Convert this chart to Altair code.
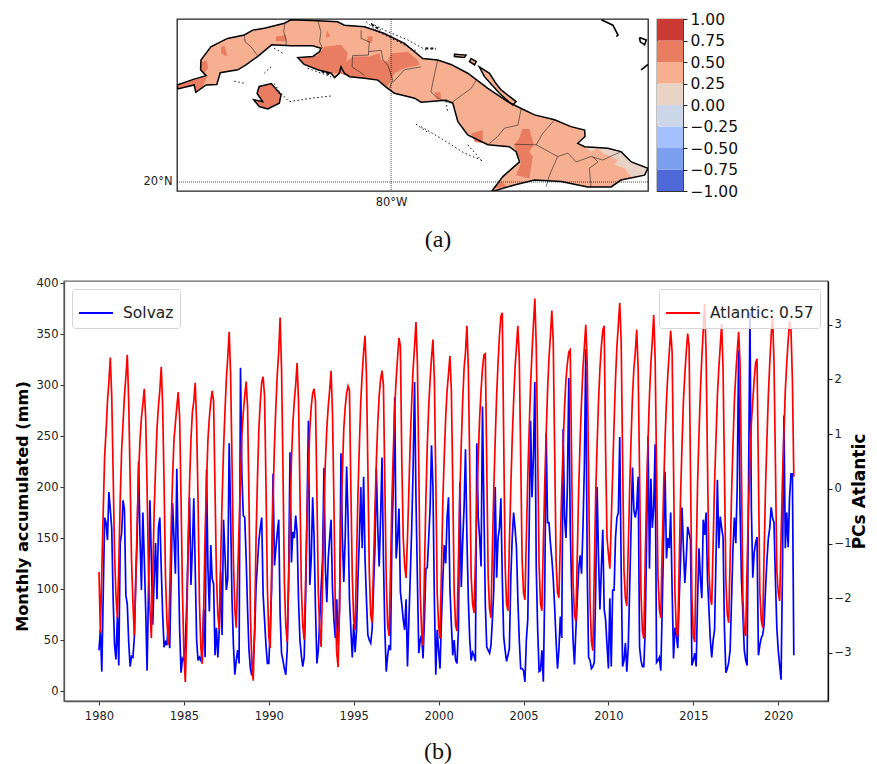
import altair as alt
import pandas as pd

# ---------- time series (monthly, Jan..Dec per row) ----------
START_YEAR = 1980
SOLVAZ = [
 [40,60,19,95,170,165,148,195,178,160,91,45],
 [31,73,25,145,155,187,178,94,85,48,24,34],
 [33,53,110,150,225,150,99,175,130,80,20,100],
 [187,130,65,110,145,90,160,170,120,75,43,48],
 [45,65,42,115,184,150,115,218,135,60,18,32],
 [30,45,85,140,190,104,140,189,120,50,30,33],
 [30,40,80,33,217,120,78,143,110,105,35,62],
 [33,60,117,55,168,135,99,110,243,175,90,45],
 [16,30,40,27,317,210,172,170,130,80,40,22],
 [15,30,55,102,125,148,160,170,94,70,45,27],
 [27,60,100,213,123,140,155,168,75,37,30,22],
 [16,40,110,234,126,156,150,172,155,90,50,35],
 [24,33,90,175,265,104,130,190,150,80,27,40],
 [70,102,130,219,120,87,130,150,168,100,70,52],
 [90,45,80,233,150,107,150,220,170,90,60,33],
 [66,38,60,110,150,200,140,210,130,90,55,50],
 [47,60,100,140,218,160,122,170,229,130,60,19],
 [35,45,40,150,200,288,130,150,179,97,85,70],
 [60,90,24,70,114,160,220,303,190,110,37,50],
 [55,32,70,120,121,150,180,241,200,90,16,60],
 [40,22,70,110,143,125,170,190,100,66,35,50],
 [30,27,60,205,102,146,180,237,150,90,50,30],
 [38,35,29,243,170,150,122,279,180,85,43,40],
 [37,45,70,100,200,111,150,160,189,110,53,40],
 [29,35,42,110,150,175,160,141,90,50,22,22],
 [20,9,50,70,160,265,190,230,303,120,60,19],
 [20,40,9,100,253,165,165,145,130,110,82,50],
 [22,40,73,52,257,170,150,200,307,160,100,50],
 [26,60,90,120,133,115,160,220,335,120,33,30],
 [22,24,28,100,200,130,80,120,158,80,70,45],
 [22,91,24,99,99,150,170,175,249,120,24,30],
 [47,19,43,100,160,219,177,170,180,210,43,30],
 [24,24,60,150,250,120,208,160,180,242,28,30],
 [33,20,80,150,215,130,150,140,175,100,32,62],
 [55,42,90,130,180,140,106,130,161,155,148,25],
 [30,37,24,90,140,110,91,168,153,175,110,81],
 [50,33,50,60,130,207,140,171,160,151,60,18],
 [22,28,40,90,140,170,145,200,334,180,110,76],
 [40,30,25,200,371,180,111,136,145,151,35,45],
 [52,55,65,100,128,150,160,180,170,165,110,62],
 [40,25,11,120,270,140,175,141,190,213,213,35],
]
ATLANTIC = [
 [-1.52,-2.63,-1.5,-0.4,0.6,1.05,1.6,1.95,2.40,1.7,0.3,-1.2],
 [-1.95,-2.36,-1.4,-0.2,0.7,1.2,1.7,2.05,2.45,1.6,0.2,-1.3],
 [-2.1,-2.68,-1.7,-0.6,0.3,0.9,1.3,1.55,1.83,1.3,0.0,-1.5],
 [-2.2,-2.73,-1.6,-0.4,0.4,1.1,1.5,1.8,2.23,1.5,0.1,-1.6],
 [-2.4,-2.85,-1.9,-0.7,0.2,0.9,1.2,1.5,1.77,1.3,-0.2,-1.9],
 [-3.0,-3.53,-2.6,-1.0,0.1,0.9,1.4,1.6,1.94,1.2,-0.2,-2.1],
 [-2.9,-3.2,-2.2,-0.8,0.1,0.9,1.3,1.6,1.79,1.6,0.0,-1.6],
 [-2.3,-2.58,-1.3,-0.2,0.7,1.4,2.0,2.4,2.87,2.1,0.5,-1.3],
 [-2.2,-2.54,-1.6,-0.7,0.2,1.0,1.4,1.7,1.96,1.5,-0.2,-2.3],
 [-3.2,-3.51,-2.5,-0.9,0.2,1.1,1.6,1.95,2.05,1.7,0.1,-1.8],
 [-2.7,-2.91,-1.5,-0.2,0.8,1.5,2.1,2.5,3.13,2.2,0.4,-1.7],
 [-2.5,-2.80,-1.7,-0.4,0.5,1.2,1.6,1.9,2.30,1.6,0.0,-1.8],
 [-2.5,-2.76,-1.7,-0.5,0.4,1.1,1.5,1.75,1.83,1.6,-0.1,-1.9],
 [-2.6,-2.89,-1.7,-0.4,0.5,1.1,1.5,1.8,2.16,1.4,-0.2,-2.2],
 [-3.0,-3.26,-2.1,-0.7,0.3,1.1,1.5,1.75,1.88,1.8,0.0,-1.6],
 [-2.4,-2.58,-1.3,-0.1,0.8,1.6,2.1,2.5,2.80,2.1,0.4,-1.5],
 [-2.3,-2.45,-1.4,-0.4,0.5,1.2,1.7,2.0,2.16,1.9,0.1,-1.7],
 [-2.5,-2.69,-1.5,-0.2,0.7,1.5,2.0,2.4,2.76,2.6,0.5,-0.9],
 [-1.4,-1.63,-0.9,0.0,0.9,1.6,2.2,2.6,3.05,2.3,0.4,-1.9],
 [-2.6,-2.87,-1.5,-0.2,0.8,1.5,2.0,2.4,2.73,2.0,0.2,-1.9],
 [-2.5,-2.74,-1.5,-0.2,0.6,1.3,1.8,2.1,2.43,1.8,0.1,-1.9],
 [-2.5,-2.60,-1.3,-0.1,0.8,1.6,2.2,2.5,2.98,2.2,0.4,-1.6],
 [-2.1,-2.27,-1.3,-0.3,0.6,1.3,1.8,2.2,2.45,2.47,0.5,-1.6],
 [-2.2,-2.36,-1.1,0.0,0.9,1.7,2.3,2.8,3.15,3.22,0.9,-1.4],
 [-2.1,-2.23,-1.0,0.0,0.9,1.6,2.2,2.6,2.98,2.4,0.6,-1.3],
 [-1.9,-2.03,-0.9,0.2,1.1,1.9,2.5,3.0,3.48,2.6,0.7,-1.4],
 [-2.1,-2.23,-1.0,0.1,1.0,1.8,2.4,2.8,3.26,2.7,0.7,-1.3],
 [-1.9,-1.99,-1.0,0.0,0.8,1.5,2.0,2.3,2.50,2.54,0.5,-1.7],
 [-2.3,-2.43,-1.2,0.0,0.9,1.6,2.2,2.6,3.0,2.3,0.3,-2.1],
 [-2.8,-2.96,-1.5,-0.1,0.8,1.6,2.2,2.6,2.90,2.98,0.7,-0.9],
 [-1.2,-1.46,-0.6,0.3,1.2,2.0,2.6,3.0,3.40,2.7,0.6,-1.5],
 [-2.0,-2.14,-1.1,0.0,0.9,1.7,2.2,2.5,2.91,2.2,0.3,-1.9],
 [-2.6,-2.74,-1.3,0.0,0.9,1.7,2.3,2.7,3.18,2.4,0.4,-1.6],
 [-2.2,-2.36,-1.1,0.0,0.9,1.6,2.1,2.5,2.89,2.5,0.4,-1.9],
 [-2.6,-2.71,-1.4,-0.1,0.8,1.6,2.1,2.5,2.84,2.6,0.3,-2.0],
 [-2.7,-2.80,-1.3,0.1,1.0,1.8,2.4,2.9,3.38,2.5,0.5,-1.5],
 [-2.0,-2.12,-1.0,0.1,0.9,1.7,2.2,2.6,3.02,2.2,0.3,-1.7],
 [-2.3,-2.45,-1.3,-0.1,0.8,1.6,2.1,2.5,2.87,2.3,0.3,-2.0],
 [-2.6,-2.69,-1.4,-0.3,0.5,1.2,1.6,2.0,2.30,2.38,0.3,-1.9],
 [-2.4,-2.54,-1.2,0.0,0.9,1.7,2.3,2.8,3.20,2.3,0.5,-1.5],
 [-1.9,-2.05,-0.9,0.2,1.0,1.8,2.3,2.7,3.07,2.9,2.0,0.22],
]

# ---------- map outlines, in degrees (lon, lat) ----------
CUBA = [(-85.00,21.98),(-84.60,22.10),(-84.32,22.17),(-84.45,22.29),(-84.44,22.49),(-84.21,22.76),
 (-83.82,22.93),(-83.43,23.00),(-83.23,23.10),(-82.96,23.14),(-82.49,23.24),(-82.34,23.31),(-81.71,23.29),
 (-81.25,23.27),(-81.09,23.20),(-80.62,23.17),(-80.16,23.03),(-79.69,22.83),(-79.26,22.52),(-78.91,22.49),
 (-78.60,22.40),(-78.21,22.22),(-77.74,21.91),(-77.28,21.64),(-76.96,21.50),(-76.65,21.37),(-76.18,21.27),
 (-75.80,21.13),(-75.48,21.06),(-75.47,20.93),(-75.64,20.79),(-75.48,20.72),(-74.94,20.69),(-74.63,20.62),
 (-74.39,20.41),(-74.00,20.28),(-74.08,20.14),(-74.63,20.04),(-74.86,19.90),(-75.41,19.90),(-76.03,20.01),
 (-76.65,20.04),(-77.12,19.94),(-77.66,19.80),(-77.39,20.11),(-77.00,20.41),(-77.08,20.62),(-77.24,20.72),
 (-77.74,20.76),(-78.21,20.96),(-78.44,21.23),(-78.56,21.61),(-78.72,21.67),(-79.30,21.63),(-79.45,21.71),
 (-79.92,21.81),(-80.08,21.91),(-80.31,22.08),(-80.62,22.12),(-80.97,22.15),(-81.09,22.22),(-81.17,22.35),
 (-81.21,22.22),(-81.32,22.13),(-81.40,22.22),(-81.71,22.29),(-82.03,22.40),(-82.18,22.54),(-81.83,22.56),
 (-81.67,22.66),(-81.64,22.73),(-81.83,22.78),(-82.34,22.78),(-82.79,22.80),(-83.12,22.56),(-83.39,22.39),
 (-83.58,22.29),(-83.99,22.23),(-84.07,21.99),(-84.32,21.98),(-84.56,21.83),(-84.60,21.98),(-84.98,21.90)]
YOUTH = [(-83.08,21.95),(-82.80,22.01),(-82.57,21.78),(-82.61,21.61),(-82.88,21.49),(-83.08,21.54),
 (-83.21,21.68),(-83.00,21.64),(-83.13,21.81)]
CAY_A = [(-78.52,22.61),(-78.25,22.59),(-78.29,22.54),(-78.52,22.56)]
CAY_B = [(-78.13,22.52),(-78.01,22.46),(-78.05,22.39),(-78.17,22.46)]
CAY_C = [(-77.94,22.35),(-77.70,22.22),(-77.55,22.01),(-77.43,21.88),(-77.08,21.64),(-77.16,21.57),(-77.47,21.81),(-77.82,22.15)]

HIGH_PATCHES = [
 [(-85,21.97),(-84.60,22.08),(-84.30,22.15),(-84.40,21.95),(-84.56,21.83),(-84.60,21.98),(-84.98,21.90)],
 [(-84.46,22.44),(-84.31,22.48),(-84.27,22.33),(-84.38,22.19),(-84.45,22.29)],
 [(-82.14,22.52),(-81.71,22.58),(-81.56,22.76),(-81.17,22.80),(-81.01,22.63),(-81.05,22.46),(-80.86,22.56),
  (-80.51,22.56),(-80.27,22.63),(-80.23,22.49),(-80.08,22.46),(-80.00,22.63),(-79.61,22.66),(-79.38,22.49),
  (-79.34,22.39),(-79.69,22.32),(-79.92,22.22),(-80.08,21.95),(-80.31,22.08),(-80.97,22.15),(-81.21,22.22),
  (-81.40,22.22),(-82.03,22.40)],
 [(-82.69,22.97),(-82.45,23.00),(-82.45,22.87),(-82.69,22.88)],
 [(-81.50,23.10),(-81.42,22.97),(-81.52,22.95)],
 [(-83.97,22.76),(-83.89,22.78),(-83.82,22.56),(-83.97,22.63)],
 [(-80.55,22.97),(-80.43,22.97),(-80.45,22.83),(-80.56,22.86)],
 [(-78.13,20.99),(-77.86,21.06),(-77.86,20.79),(-78.05,20.82)],
 [(-78.99,21.83),(-78.85,21.83),(-78.83,21.71),(-78.93,21.69)],
 [(-76.94,21.08),(-76.77,21.08),(-76.67,20.76),(-76.77,20.62),(-76.69,20.52),(-76.77,20.07),(-77.08,20.14),
  (-76.96,20.41),(-77.08,20.62),(-77.12,20.76),(-77.00,20.90)],
 [(-77.63,19.87),(-77.43,20.01),(-77.28,19.90)],
 YOUTH,
]
LOW_PATCHES = [
 [(-75.48,20.72),(-74.94,20.69),(-74.63,20.62),(-74.39,20.41),(-74.00,20.28),(-74.08,20.14),(-74.39,20.11),
  (-74.55,20.28),(-74.78,20.35),(-74.70,20.45),(-75.06,20.59),(-75.17,20.69),(-75.33,20.62)],
]
PROVINCES = [
 [(-83.43,22.99),(-83.41,22.86),(-83.27,22.76),(-83.13,22.59)],
 [(-82.48,23.24),(-82.51,23.07),(-82.45,22.90),(-82.45,22.78)],
 [(-81.71,23.29),(-81.64,23.07),(-81.67,22.86),(-81.60,22.73)],
 [(-80.70,23.10),(-80.70,22.93),(-80.51,22.86),(-80.53,22.59),(-80.90,22.58),(-80.91,22.35),(-80.62,22.18)],
 [(-80.53,22.66),(-80.23,22.69),(-80.19,22.49),(-80.08,22.39),(-79.96,22.08),(-80.04,21.91)],
 [(-79.96,22.03),(-79.69,22.29),(-79.30,22.35)],
 [(-78.91,22.49),(-78.99,22.18),(-79.07,21.84),(-78.91,21.71),(-78.60,21.61),(-78.29,21.81),(-78.13,21.91),(-78.01,22.08)],
 [(-76.96,21.50),(-77.04,21.16),(-77.35,21.10),(-77.51,20.93),(-77.74,20.76)],
 [(-76.18,21.27),(-76.46,20.99),(-76.61,20.76),(-77.12,20.77)],
 [(-76.61,20.76),(-76.11,20.52),(-76.30,20.14),(-76.38,19.90)],
 [(-76.11,20.52),(-75.87,20.59),(-75.68,20.41),(-75.33,20.52),(-75.06,20.45),(-74.63,20.62)],
 [(-75.29,20.52),(-75.17,20.41),(-75.37,20.28),(-75.33,19.90)],
]
THIN_CAYS = [
 [(-80.58,23.27),(-80.31,23.07),(-79.92,22.90),(-79.38,22.66)],
 [(-80.47,23.24),(-80.08,23.07),(-79.61,22.90),(-79.18,22.69)],
 [(-83.66,22.06),(-83.39,22.01)],
 [(-82.57,21.81),(-82.38,21.64),(-81.87,21.71),(-81.36,21.76)],
 [(-82.96,22.22),(-82.76,22.39)],
 [(-82.73,22.73),(-82.53,22.63)],
 [(-82.73,22.01),(-82.53,21.74)],
 [(-81.95,22.32),(-81.40,22.15)],
 [(-79.42,21.18),(-79.10,20.99)],
 [(-79.30,21.13),(-78.83,20.89),(-78.29,20.59),(-77.90,20.45)],
 [(-78.72,21.65),(-78.68,21.44)],
 [(-78.21,20.76),(-77.86,20.41)],
]
THICK_CAYS = [
 [(-79.20,22.73),(-78.95,22.72)],
 [(-80.46,23.22),(-80.25,23.10)],
 [(-81.62,22.26),(-81.42,22.19)],
]
FAR_COASTS = [
 [(-75.09,23.31),(-74.82,23.20),(-74.70,23.00),(-74.74,22.97)],
 [(-74.20,22.95),(-74.04,22.90),(-74.08,22.80),(-74.18,22.86),(-74.20,22.95)],
 [(-74.16,22.29),(-74.00,22.40)],
]

LON_DOMAIN = [-85, -74]
LAT_DOMAIN = [19.816, 23.327]
MERIDIAN = [-80]
PARALLEL = [20]

# ---------- colour bar ----------
CB_LOW  = [-1,-0.75,-0.5,-0.25,0,0.25,0.5,0.75]
CB_HIGH = [-0.75,-0.5,-0.25,0,0.25,0.5,0.75,1]
CB_COLORS = ["#4F69D8","#7C9FEF","#A4C0FE","#CCD6E9","#E9D3C7","#F7AF91","#E97D62","#CC3A35"]
C_MID, C_HIGH, C_LOW = "#F7AF91", "#E97D62", "#E9D3C7"

MAP_W, MAP_H = 471, 172
PX_PER_LON, PX_PER_LAT = MAP_W / 11, 49.0
ASPECT = PX_PER_LAT / PX_PER_LON


def geom(kind, ring):
    pts = [[lon, lat * ASPECT] for lon, lat in ring]
    if kind == "Polygon":
        return {"type": "Feature", "properties": {}, "geometry": {"type": "Polygon", "coordinates": [pts + [pts[0]]]}}
    return {"type": "Feature", "properties": {}, "geometry": {"type": "LineString", "coordinates": pts}}


def shapes(kind, rings, **mark):
    return alt.Chart(alt.Data(values=[geom(kind, r) for r in rings])).mark_geoshape(clip=True, **mark)


proj = dict(type="identity", reflectY=True, scale=PX_PER_LON,
            translate=[85 * PX_PER_LON, LAT_DOMAIN[1] * PX_PER_LAT])

land = shapes("Polygon", [CUBA, YOUTH, CAY_A, CAY_B, CAY_C], fill=C_MID, stroke=None)
high = shapes("Polygon", HIGH_PATCHES, fill=C_HIGH, stroke=None)
low = shapes("Polygon", LOW_PATCHES, fill=C_LOW, stroke=None)
prov = shapes("Line", PROVINCES, fill=None, stroke="#222222", strokeWidth=0.6)
thin = shapes("Line", THIN_CAYS, fill=None, stroke="#111111", strokeWidth=1, strokeDash=[1.5, 2.5])
thick = shapes("Line", THICK_CAYS, fill=None, stroke="#111111", strokeWidth=2, strokeDash=[3, 2])
coast = shapes("Polygon", [CUBA, YOUTH, CAY_A, CAY_B, CAY_C], fill=None, stroke="black", strokeWidth=1.5)
far = shapes("Line", FAR_COASTS, fill=None, stroke="black", strokeWidth=1.6)

lon_scale = alt.Scale(domain=LON_DOMAIN, nice=False, zero=False)
lat_scale = alt.Scale(domain=LAT_DOMAIN, nice=False, zero=False)
merid = alt.Chart(pd.DataFrame({"lon": MERIDIAN})).mark_rule(stroke="black", strokeWidth=0.7, strokeDash=[1, 1]).encode(
    x=alt.X("lon:Q", scale=lon_scale,
            axis=alt.Axis(values=MERIDIAN, title=None, labelExpr="'80°W'", labelFontSize=11.5, tickSize=0,
                          labelPadding=5, labelColor="#222", domain=False, grid=False)))
paral = alt.Chart(pd.DataFrame({"lat": PARALLEL})).mark_rule(stroke="black", strokeWidth=0.7, strokeDash=[1, 1]).encode(
    y=alt.Y("lat:Q", scale=lat_scale,
            axis=alt.Axis(values=PARALLEL, title=None, labelExpr="'20°N'", labelFontSize=11.5, tickSize=0,
                          labelPadding=5, labelColor="#222", domain=False, grid=False)))
cap_a = alt.Chart(alt.Data(values=[{"t": "(a)"}])).mark_text(
    font="Liberation Serif", fontSize=24, color="#111", align="center", baseline="middle"
).encode(text="t:N", x=alt.value(261), y=alt.value(221))

geo = alt.layer(land, high, low, prov, thin, thick, coast, far).project(**proj)
map_panel = alt.layer(geo, merid, paral, cap_a).properties(
    width=MAP_W, height=MAP_H, view=alt.ViewConfig(stroke="#222", strokeWidth=1.3))

cb_df = pd.DataFrame({"lo": CB_LOW, "hi": CB_HIGH, "c": CB_COLORS})
colorbar = alt.Chart(cb_df).mark_rect().encode(
    y=alt.Y("lo:Q", scale=alt.Scale(domain=[-1, 1], nice=False),
            axis=alt.Axis(orient="right", values=[-1 + 0.25 * i for i in range(9)], format=".2f", title=None,
                          labelFontSize=15.5, labelColor="#111", tickSize=4, tickColor="#222", domain=False,
                          labelPadding=3, grid=False)),
    y2="hi:Q",
    color=alt.Color("c:N", scale=None, legend=None),
).properties(width=26, height=MAP_H, view=alt.ViewConfig(stroke="#333", strokeWidth=1.2))

spacer = alt.Chart(alt.Data(values=[{"a": 1}])).mark_point(opacity=0).encode(
    x=alt.value(0), y=alt.value(0)).properties(width=104, height=MAP_H, view=alt.ViewConfig(stroke=None))

top = alt.hconcat(spacer, map_panel, colorbar, spacing=9, bounds="flush")

# ---------- bottom panel ----------
rows = []
for i, (b, r) in enumerate(zip(SOLVAZ, ATLANTIC)):
    for m in range(12):
        rows.append({"t": START_YEAR + i + m / 12, "solvaz": b[m], "atl": r[m]})
df = pd.DataFrame(rows)

x_enc = alt.X("t:Q", scale=alt.Scale(domain=[1977.94, 2022.93], nice=False, zero=False),
              axis=alt.Axis(values=list(range(1980, 2021, 5)), format="d", title=None, labelFontSize=11.5,
                            labelColor="#222", tickSize=4, tickColor="#333", domainColor="#555", domainWidth=1.3,
                            labelPadding=5, grid=False))

leg = dict(title=None, symbolType="stroke", symbolSize=1150, symbolStrokeWidth=2, labelFontSize=15.5,
           labelColor="#222", fillColor="rgba(255,255,255,0.8)", strokeColor="#d5d5d5", cornerRadius=3,
           padding=6, offset=8, labelOffset=9)

blue = alt.Chart(df).transform_calculate(series="'Solvaz'").mark_line(strokeWidth=1.7, clip=True).encode(
    x=x_enc,
    y=alt.Y("solvaz:Q", scale=alt.Scale(domain=[-9.8, 402], nice=False, zero=False),
            axis=alt.Axis(values=list(range(0, 401, 50)), title="Monthly accumulated (mm)", titleFontSize=16.2,
                          titleFontWeight="bold", titleColor="black", titlePadding=6, titleY=225, labelFontSize=11.5,
                          labelColor="#222", tickSize=4, tickColor="#333", domainColor="#555", domainWidth=1.3,
                          grid=False)),
    color=alt.Color("series:N", scale=alt.Scale(domain=["Solvaz"], range=["#0000FF"]),
                    legend=alt.Legend(orient="top-left", **leg)),
)
red = alt.Chart(df).transform_calculate(series="'Atlantic: 0.57'").mark_line(strokeWidth=1.7, clip=True).encode(
    x=x_enc,
    y=alt.Y("atl:Q", scale=alt.Scale(domain=[-3.88, 3.80], nice=False, zero=False),
            axis=alt.Axis(orient="right", values=[-3, -2, -1, 0, 1, 2, 3], title="PCs Atlantic", titleFontSize=17,
                          titleFontWeight="bold", titleColor="black", titleAngle=270, titlePadding=18, labelFontSize=11.5,
                          labelColor="#222", tickSize=4, tickColor="#222", domainColor="#111", domainWidth=1.3,
                          grid=False)),
    color=alt.Color("series:N", scale=alt.Scale(domain=["Atlantic: 0.57"], range=["#FF0000"]),
                    legend=alt.Legend(orient="top-right", **leg)),
)
main = alt.layer(blue, red).resolve_scale(y="independent", color="independent")
cap_b = alt.Chart(alt.Data(values=[{"t": "(b)"}])).mark_text(
    font="Liberation Serif", fontSize=24, color="#111", align="center", baseline="middle"
).encode(text="t:N", x=alt.value(374), y=alt.value(471))
bottom = alt.layer(main, cap_b).resolve_scale(y="independent", color="independent", x="shared").properties(
    width=764, height=420, view=alt.ViewConfig(stroke="#666", strokeWidth=1.4))

chart = alt.vconcat(top, bottom, spacing=262, bounds="flush").properties(
    padding={"left": 5, "top": 3, "right": 0, "bottom": 0}).configure(
    font="DejaVu Sans", background="white")

chart.save("out.html", embed_options={"renderer": "svg", "actions": False})
